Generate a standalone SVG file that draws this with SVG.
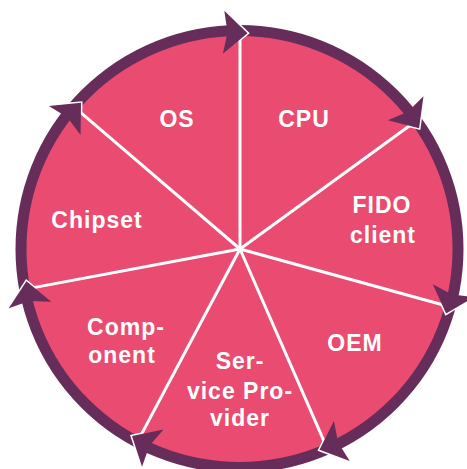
<svg xmlns="http://www.w3.org/2000/svg" xmlns:xlink="http://www.w3.org/1999/xlink" width="467" height="469" viewBox="0 0 467 469">
  <style>
    .disc { fill: #EA4B70; }
    .ring { fill: none; stroke: #672D5A; stroke-width: 11; }
    .spoke { stroke: #FFFFFF; stroke-width: 3; stroke-linecap: round; }
    .head { fill: #672D5A; }
    .edge { fill: none; stroke: #FFFFFF; stroke-width: 3; stroke-linejoin: miter; }
    .label { font-family: "Liberation Sans", Arial, sans-serif; font-weight: bold; font-size: 23px; fill: #FFFFFF; text-anchor: middle; letter-spacing: 1px; }
  </style>
  <defs>
    <!-- arrowhead sitting on the ring at angle 0, pointing clockwise (+y) -->
    <g id="arrow">
      <polyline class="edge" points="209.5,-7.3 216,0 224.5,-9.5"/>
      <polygon class="head" points="216,0 237.5,-24 216,-20 194.5,-24"/>
    </g>
  </defs>

  <!-- wheel body -->
  <circle class="disc" cx="239.5" cy="249" r="215"/>
  <g id="spokes">
    <line class="spoke" x1="240" y1="249" x2="240" y2="39"/>
    <line class="spoke" x1="240" y1="249" x2="409.9" y2="125.5"/>
    <line class="spoke" x1="240" y1="249" x2="442.5" y2="304.8"/>
    <line class="spoke" x1="240" y1="249" x2="324.1" y2="441.4"/>
    <line class="spoke" x1="240" y1="249" x2="141.4" y2="434.4"/>
    <line class="spoke" x1="240" y1="249" x2="33.6" y2="287.6"/>
    <line class="spoke" x1="240" y1="249" x2="80.5" y2="112.3"/>
  </g>

  <!-- cycle ring with clockwise arrowheads -->
  <g id="connectors">
    <circle class="ring" cx="239.5" cy="249" r="218.5"/>
    <use xlink:href="#arrow" transform="translate(240 249) rotate(-88)"/>
    <use xlink:href="#arrow" transform="translate(240 249) rotate(-34)"/>
    <use xlink:href="#arrow" transform="translate(240 249) rotate(17.4)"/>
    <use xlink:href="#arrow" transform="translate(240 249) rotate(68.4)"/>
    <use xlink:href="#arrow" transform="translate(240 249) rotate(120)"/>
    <use xlink:href="#arrow" transform="translate(240 249) rotate(171.4)"/>
    <use xlink:href="#arrow" transform="translate(240 249) rotate(222.6)"/>
  </g>

  <g id="os"><text class="label" x="177" y="127">OS</text></g>
  <g id="cpu"><text class="label" x="304" y="127">CPU</text></g>
  <g id="fido-client">
    <text class="label" x="382" y="213">FIDO</text>
    <text class="label" x="383" y="243">client</text>
  </g>
  <g id="oem"><text class="label" x="355" y="351">OEM</text></g>
  <g id="service-provider">
    <text class="label" x="240" y="369">Ser-</text>
    <text class="label" x="240" y="399">vice Pro-</text>
    <text class="label" x="240" y="426">vider</text>
  </g>
  <g id="component">
    <text class="label" x="126" y="335">Comp-</text>
    <text class="label" x="122" y="363">onent</text>
  </g>
  <g id="chipset"><text class="label" x="97" y="228">Chipset</text></g>
</svg>
